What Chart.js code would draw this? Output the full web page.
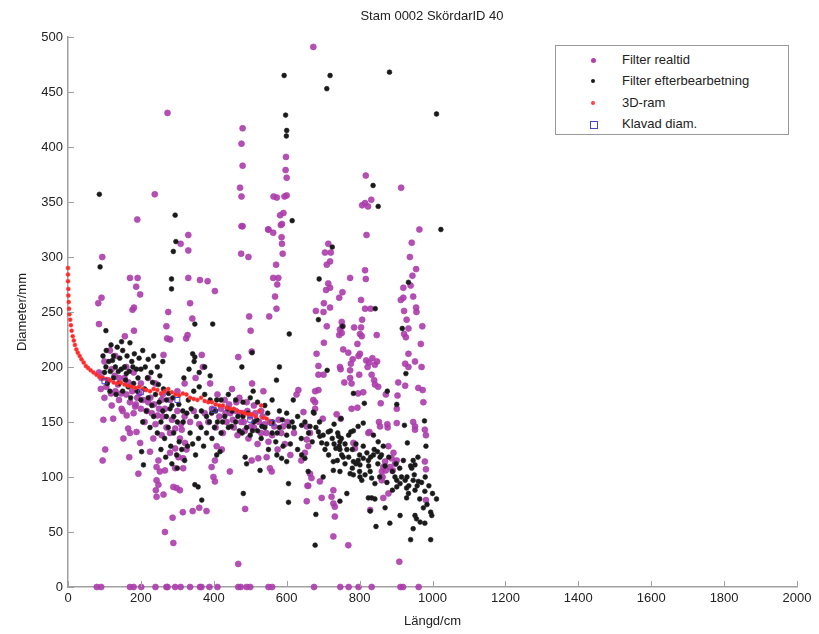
<!DOCTYPE html>
<html>
<head>
<meta charset="utf-8">
<script src="https://cdn.jsdelivr.net/npm/chart.js@4.4.1/dist/chart.umd.min.js"></script>
<style>
  html, body { margin:0; padding:0; background:#fff; }
  #wrap { position:relative; width:819px; height:634px; font-family:"Liberation Sans", Arial, sans-serif; color:#222; }
  #title { position:absolute; left:332px; width:200px; top:8px; text-align:center; font-size:13px; }
  #legend { position:absolute; left:555px; top:45px; width:234px; height:90px; border:1px solid #999; background:#fff; box-sizing:border-box; font-size:13px; }
  .row { position:absolute; left:0; height:16px; line-height:16px; }
  .row span.txt { position:absolute; left:66px; white-space:nowrap; }
  .mk { position:absolute; }
</style>
</head>
<body>
<div id="wrap">
  <canvas id="chart" width="819" height="634"></canvas>
  <div id="title">Stam 0002 SkördarID 40</div>
  <div id="legend"></div>
</div>
<script>
// serie: Filter realtid (lila)
const realtid = [
  [673,491],[273,431],[479,417],[476,403],[479,383],[472,363],[476,355],[479,328],[238,357],[190,334],
  [598,391],[597,379],[600,372],[564,355],[573,354],[600,356],[594,355],[582,338],[591,340],[549,325],
  [587,330],[817,374],[914,363],[832,352],[807,347],[815,349],[823,346],[964,325],
  [476,328],[550,325],[563,322],[584,329],[586,318],[587,312],[589,303],[571,293],[563,281],[577,281],
  [574,275],[568,264],[572,253],[552,246],
  [330,320],[309,312],[330,306],[475,303],[495,300],[94,300],[170,281],[191,281],[330,281],[362,279],
  [383,278],[403,269],[187,273],[198,266],[92,263],[83,258],[335,258],[181,254],[177,252],[275,250],
  [497,246],[341,244],[85,239],[270,237],[181,233],[501,233],[328,229],[324,226],[156,228],[272,226],
  [280,225],[262,211],[367,211],[370,200],[467,209],[504,214],[505,185],[536,178],[632,179],[627,175],
  [819,320],[714,312],[705,304],[721,304],[719,296],[710,293],[943,313],[938,300],[955,289],[815,288],
  [817,280],[774,281],[940,274],[945,283],[714,276],[708,270],[719,272],[753,268],[744,263],[920,272],
  [913,261],[920,263],[947,264],[702,258],[804,261],[719,254],[815,253],[830,253],[955,254],[956,250],
  [680,251],[701,250],[922,251],[807,243],[929,243],[751,241],[753,237],[710,237],[972,237],[785,236],
  [804,236],[934,235],[746,234],[744,229],[751,231],[801,230],[806,228],[847,229],[922,230],[927,227],
  [702,222],[794,221],[968,221],[755,216],[769,213],[801,212],[797,210],[682,212],[934,212],[818,206],
  [826,204],[835,208],[842,202],[848,205],[822,200],[781,207],[776,203],[952,205],[925,203],[934,200],
  [687,201],[746,200],[748,198],[970,200],[774,197],[687,193],[701,193],[799,193],[833,193],[840,188],
  [842,184],[758,186],[778,185],[774,190],[906,186],[925,183],[851,182],[961,181],[973,179],[796,176],
  [810,177],[678,178],[687,179],[872,175],[904,174],[673,170],[678,168],[858,167],[975,168],[902,162],
  [778,162],[794,163],[737,157],[646,159],
  [678,162],[699,153],[748,153],[853,150],[856,146],[876,148],[877,145],[902,149],[947,150],[952,146],
  [952,143],[979,143],[982,138],[827,141],[824,140],[655,146],[664,140],[655,134],[659,128],[650,122],
  [783,131],[787,126],[879,128],[893,122],[888,117],[902,115],[897,112],[883,109],[891,106],[870,114],
  [865,109],[861,105],[863,100],[872,106],[979,114],[982,107],[861,97],[664,103],[668,99],[691,96],
  [657,92],[879,85],[865,81],[728,88],[723,82],[728,76],[732,73],[696,81],[655,78],[982,79],[829,70],
  [732,64],[728,46],[769,38],[909,23],
  [97,152],[124,153],[161,156],[184,164],[147,162],[152,135],[170,140],[165,144],[188,141],[198,131],
  [102,125],[95,115],[168,118],[193,103],[225,123],[234,135],[257,138],[280,140],[294,144],[307,135],
  [312,143],[248,115],[243,109],[252,105],[266,106],[280,122],[294,126],[303,118],[316,117],[325,125],
  [321,131],[243,97],[248,93],[241,88],[243,82],[294,108],[316,108],[289,91],[298,90],[307,88],
  [262,84],[287,63],[315,68],[342,69],[360,72],[380,69],[266,50],[289,40],[467,21],[486,71],
  [659,92],[394,109],[399,100],[403,96],[403,115],[444,105],[408,128],[422,125],[554,108],[559,105],
  [504,115],[522,117],[545,118],
  [85,195],[90,180],[100,172],[110,188],[120,165],[130,178],[140,170],[150,160],[160,175],[170,168],
  [180,158],[190,172],[200,162],[210,150],[220,168],[230,158],[240,148],[250,162],[260,155],[270,145],
  [285,152],[300,160],[310,148],[320,155],[335,150],[345,160],[360,148],[375,158],[385,150],[395,162],
  [405,145],[415,155],[425,140],[435,150],[445,158],[455,145],[465,138],[475,150],[485,142],[495,135],
  [510,145],[520,130],[530,140],[540,148],[550,132],[560,138],[575,125],[585,140],[595,130],[610,120],
  [620,140],[640,115],[450,180],[470,172],[490,168],[510,165],[530,160],[460,160],[480,158],[500,155],
  [430,170],[410,175],[390,185],[350,190],[320,185],[300,178],[280,170],[260,175],[240,185],[220,190],
  [200,185],[180,195],[160,200],[140,190],[120,198],[100,205],[115,215],[130,210],
  [92,190],[105,182],[118,176],[128,192],[137,184],[146,176],[155,190],[166,186],[176,178],[186,166],
  [196,176],[206,170],[216,160],[226,172],[236,166],[246,156],[256,170],[266,162],[420,162],[432,158],
  [442,166],[452,152],[462,168],[472,158],[482,150],[492,160],[502,146],[514,158],[524,150],[534,155],
  [544,140],[554,150],[566,146],[578,152],[590,146],[602,150],
  [79,0],[91,0],[170,0],[180,0],[201,0],[240,0],[270,0],[273,0],[294,0],[309,0],[335,0],[362,0],
  [366,0],[388,0],[410,0],[467,0],[474,0],[490,0],[500,0],[550,0],[560,0],[675,0],[747,0],[770,0],
  [797,0],[833,0],[912,0],[919,0],[962,0]
];

// serie: Filter efterbearbetning (svart)
const efterbearb = [
  [593,465],[597,429],[600,415],[599,410],[86,357],[294,338],[615,333],[719,465],[882,468],[710,453],
  [1011,430],[837,365],[851,346],[1023,325],
  [296,314],[289,305],[88,291],[284,280],[284,271],[348,239],[397,239],[104,233],[607,230],[147,223],
  [342,212],[348,209],[505,213],[477,200],[580,200],[572,188],[508,178],[618,170],
  [725,309],[689,280],[934,277],[843,253],[687,243],[753,237],[917,235],[711,197],[927,194],[876,178],
  [783,176],[813,167],[902,166],[673,159],
  [675,158],[749,153],[810,149],[796,146],[923,147],[978,151],[838,138],[776,141],[783,142],[714,141],
  [742,137],[746,132],[730,130],[735,126],[746,125],[765,125],[744,128],[751,120],[755,118],[739,115],
  [728,114],[641,147],[664,146],[687,141],[691,137],[696,131],[641,120],[650,117],[783,114],[796,115],
  [810,117],[824,115],[801,111],[851,132],[865,128],[849,123],[838,120],[856,118],[931,131],[982,128],
  [947,115],[952,111],[943,108],[728,106],[746,105],[774,103],[783,102],[801,100],[806,97],[829,105],
  [833,99],[842,94],[897,100],[902,97],[911,94],[925,97],[947,97],[961,96],[958,92],[700,100],
  [902,91],[929,90],[934,85],[929,81],[952,88],[979,87],[833,81],[842,80],[824,81],[765,85],
  [746,78],[1011,80],[975,72],[829,69],[870,72],[911,65],[952,65],[956,62],[966,59],[979,58],
  [998,65],[883,58],[845,55],[947,53],[680,66],[678,38],[940,43],[995,43],
  [202,123],[207,111],[348,93],[357,91],[367,79],[481,85],[605,94],[605,77],[408,120],[417,123],
  [486,118],[490,112],[527,106],[573,120],[586,117],[600,114],[659,105],
  [105,215],[112,205],[118,220],[125,210],[130,200],[135,218],[142,208],[150,215],[155,200],[162,210],
  [170,222],[175,205],[182,212],[188,198],[195,208],[205,215],[212,200],[220,207],[228,195],[235,210],
  [245,200],[252,192],[260,205],[100,195],[108,185],[115,178],[125,190],[132,175],[140,185],[150,178],
  [158,188],[165,182],[172,172],[180,185],[190,178],[200,170],[210,180],[220,172],[230,165],[240,175],
  [250,168],[260,160],[270,170],[280,162],[290,155],
  [205,150],[215,160],[225,145],[235,155],[245,140],[255,150],[265,135],[275,145],[282,128],[290,140],
  [298,120],[305,132],[312,125],[320,115],[328,128],[335,140],[342,130],[350,120],[358,135],[365,145],
  [372,128],[380,140],[388,150],[395,135],[402,145],[255,125],[268,118],[285,112],[300,108],[270,155],
  [285,165],[300,150],[315,160],[330,170],[345,178],[360,182],[375,175],[390,170],[405,160],[318,190],
  [332,198],[346,205],[360,195],[375,200],[390,192],
  [410,150],[420,140],[430,155],[440,145],[450,160],[460,150],[470,142],[480,155],[490,145],[500,138],
  [510,150],[520,142],[530,135],[540,145],[550,125],[560,140],[570,132],[580,145],[590,128],[600,138],
  [610,130],[620,145],[630,125],[640,135],[420,170],[440,175],[460,170],[480,168],[500,172],[520,168],
  [540,165],[560,170],[580,160],[600,158],[615,150],[630,155],
  [650,150],[660,140],[670,132],[680,145],[690,150],[700,138],[710,130],[720,142],[730,148],[740,140],
  [750,135],[760,130],[770,138],[780,125],[790,130],[800,120],[810,128],[820,122],[830,118],[840,125],
  [850,112],[860,120],[870,110],[880,118],[890,105],[900,112],[910,108],[920,115],[930,100],[940,110],
  [950,102],[960,118],[970,95],[980,100],[990,92],[1000,85],[705,125],[715,120],[725,135],[760,112],
  [770,118],[780,108],[790,112],[800,105],[815,102],[825,110],[855,100],[875,95],[890,88],[915,100],
  [935,92],[965,80],[985,75],[995,68],
  [96,210],[104,200],[116,196],[122,206],[138,196],[146,198],[160,194],[168,196],[178,200],[192,190],
  [200,198],[218,190],[232,186],[248,184],[262,180],[276,176],[288,172],[304,166],[316,150],[326,158],
  [338,162],[352,155],[366,160],[380,155],[394,158],[408,170],[424,150],[438,162],[448,146],[466,155],
  [478,140],[494,158],[506,142],[518,152],[532,146],[548,158],[562,150],[574,140],[588,152],[606,146]
];

// serie: 3D-ram (röd)
const ram3d = [
  [0,290],[0,284],[0,278],[1,271],[1,265],[2,259],[3,253],[4,248],[6,243],[8,238],[10,233],[13,228],
  [16,224],[19,220],[23,216],[27,213],[32,210],[37,207],[43,204],[49,201],[55,199],[62,197],[70,195],
  [78,193],[86,191],[95,190],[105,189],[115,188],[125,186],[135,185],[145,186],[155,184],[165,183],
  [175,182],[185,181],[195,182],[205,180],[215,179],[225,178],[235,180],[245,179],[255,176],[265,178],
  [275,180],[285,177],[295,175],[305,174],[315,176],[325,175],[335,172],[345,171],[355,170],[365,172],
  [375,169],[385,168],[395,168],[405,166],[415,165],[425,165],[435,163],[445,162],[455,162],[465,160],
  [475,159],[485,158],[495,157],[505,157],[515,155],[525,160],[530,165],[535,154],[545,153],[555,150]
];

// serie: Klavad diam. (blå)
const klavad = [[100,187],[200,177],[300,170],[400,161],[500,152],[560,149]];

const xTicks = [0,200,400,600,800,1000,1200,1400,1600,1800,2000];
const yTicks = [0,50,100,150,200,250,300,350,400,450,500];

const toPts = arr => arr.map(p => ({x:p[0], y:p[1]}));

const FONT = {family:'"Liberation Sans", Arial, sans-serif', size:13};
const AXIS_GRAY = '#a0a0a0';

// inward tick marks, MATLAB style
const innerTicks = {
  id:'innerTicks',
  afterDatasetsDraw(chart){
    const {ctx, scales:{x, y}} = chart;
    ctx.save();
    ctx.strokeStyle = AXIS_GRAY;
    ctx.lineWidth = 1;
    ctx.beginPath();
    xTicks.forEach(v => {
      const px = Math.round(x.getPixelForValue(v)) + 0.5;
      ctx.moveTo(px, y.bottom); ctx.lineTo(px, y.bottom - 6);
    });
    yTicks.forEach(v => {
      const py = Math.round(y.getPixelForValue(v)) + 0.5;
      ctx.moveTo(x.left, py); ctx.lineTo(x.left + 6, py);
    });
    ctx.stroke();
    ctx.restore();
  }
};

new Chart(document.getElementById('chart').getContext('2d'), {
  type:'scatter',
  data:{
    datasets:[
      { label:'Filter realtid', data:toPts(realtid), order:4, clip:false,
        pointRadius:3, pointBackgroundColor:'rgba(172,60,172,0.9)', pointBorderColor:'rgba(172,60,172,0.6)', pointBorderWidth:1 },
      { label:'Filter efterbearbetning', data:toPts(efterbearb), order:3, clip:false,
        pointRadius:2.4, pointBackgroundColor:'#1a1a1a', pointBorderColor:'rgba(30,30,30,0.6)', pointBorderWidth:1 },
      { label:'3D-ram', data:toPts(ram3d), order:2, clip:false,
        pointRadius:2, pointBackgroundColor:'#ff2a2a', pointBorderColor:'#ff3a3a', pointBorderWidth:0.5 },
      { label:'Klavad diam.', data:toPts(klavad), order:1, clip:false, pointStyle:'rect',
        pointRadius:3.5, pointBackgroundColor:'rgba(0,0,0,0)', pointBorderColor:'#4545c8', pointBorderWidth:1 }
    ]
  },
  options:{
    responsive:false,
    animation:false,
    layout:{ padding:{ top:37, right:22, left:0, bottom:0 } },
    plugins:{ legend:{ display:false }, tooltip:{ enabled:false }, title:{ display:false } },
    scales:{
      x:{
        type:'linear', min:0, max:2000,
        afterBuildTicks: s => { s.ticks = xTicks.map(v => ({value:v})); },
        afterFit: s => { s.height = 47; },
        grid:{ display:false, drawTicks:false },
        border:{ display:true, color:AXIS_GRAY, width:1.5 },
        ticks:{ color:'#222', font:FONT, padding:4, maxRotation:0, autoSkip:false, callback: v => String(v) },
        title:{ display:true, text:'Längd/cm', color:'#222', font:FONT, padding:{top:0, bottom:5} }
      },
      y:{
        type:'linear', min:0, max:500,
        afterBuildTicks: s => { s.ticks = yTicks.map(v => ({value:v})); },
        afterFit: s => { s.width = 68; },
        grid:{ display:false, drawTicks:false },
        border:{ display:true, color:AXIS_GRAY, width:1.5 },
        ticks:{ color:'#222', font:FONT, padding:5, autoSkip:false, callback: v => String(v) },
        title:{ display:true, text:'Diameter/mm', color:'#222', font:FONT, padding:{top:15, bottom:0} }
      }
    }
  },
  plugins:[innerTicks]
});

// legend (HTML, real text)
const legendItems = [
  { text:'Filter realtid', css:'width:5px;height:5px;border-radius:50%;background:#b040b0;' },
  { text:'Filter efterbearbetning', css:'width:4px;height:4px;border-radius:50%;background:#1a1a1a;' },
  { text:'3D-ram', css:'width:4px;height:4px;border-radius:50%;background:#ff4040;' },
  { text:'Klavad diam.', css:'width:6px;height:6px;border:1px solid #4545c8;' }
];
const lg = document.getElementById('legend');
legendItems.forEach((it, i) => {
  const row = document.createElement('div');
  row.className = 'row';
  row.style.top = (6 + i * 21.3) + 'px';
  row.style.width = '232px';
  const mk = document.createElement('div');
  mk.className = 'mk';
  mk.style.cssText = 'position:absolute;' + it.css;
  const w = parseFloat(it.css.match(/width:(\d+)/)[1]);
  mk.style.left = (37 - w / 2) + 'px';
  mk.style.top = (8 - w / 2) + 'px';
  const t = document.createElement('span');
  t.className = 'txt';
  t.textContent = it.text;
  row.appendChild(mk); row.appendChild(t);
  lg.appendChild(row);
});
</script>
</body>
</html>
